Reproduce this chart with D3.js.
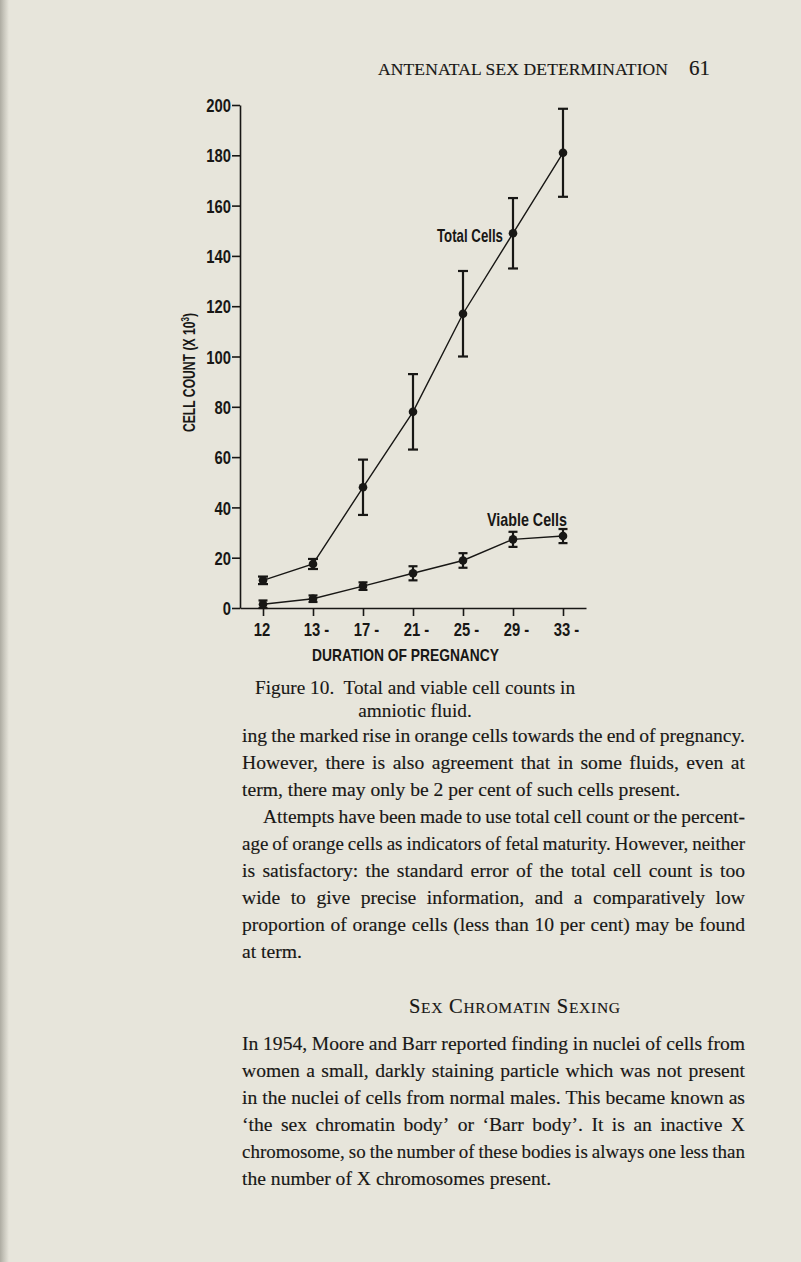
<!DOCTYPE html>
<html><head><meta charset="utf-8">
<script src="https://cdn.jsdelivr.net/npm/d3@7/dist/d3.min.js"></script>
<style>
html,body{margin:0;padding:0;background:#e7e5db;}
svg{display:block;}
</style></head><body>
<svg id="page" width="801" height="1262"></svg>
<script>
// ---------- data ----------
const categories = ["12", "13-", "17-", "21-", "25-", "29-", "33-"];
const totalMean  = [11, 17.5, 48, 78, 117, 149, 181];
const totalErr   = [1.5, 2, 11, 15, 17, 14, 17.5];
const viableMean = [1.5, 3.7, 8.7, 13.8, 18.9, 27.3, 28.6];
const viableErr  = [1.5, 1.3, 1.5, 2.8, 2.9, 3, 2.8];
const yTicks = [0, 20, 40, 60, 80, 100, 120, 140, 160, 180, 200];
const seriesNames = ["Total Cells", "Viable Cells"];
const xTitle = "DURATION OF PREGNANCY";
const yTitle = "CELL COUNT (X 10";
const headerText = "ANTENATAL SEX DETERMINATION";
const pageNumber = "61";
const captionLines = ["Figure 10.  Total and viable cell counts in", "amniotic fluid."];
const para1 = ["ing the marked rise in orange cells towards the end of pregnancy.",
  "However, there is also agreement that in some fluids, even at",
  "term, there may only be 2 per cent of such cells present."];
const para2 = ["Attempts have been made to use total cell count or the percent-",
  "age of orange cells as indicators of fetal maturity. However, neither",
  "is satisfactory: the standard error of the total cell count is too",
  "wide to give precise information, and a comparatively low",
  "proportion of orange cells (less than 10 per cent) may be found",
  "at term."];
const headingText = "Sex Chromatin Sexing";
const para3 = ["In 1954, Moore and Barr reported finding in nuclei of cells from",
  "women a small, darkly staining particle which was not present",
  "in the nuclei of cells from normal males. This became known as",
  "\u2018the sex chromatin body\u2019 or \u2018Barr body\u2019. It is an inactive X",
  "chromosome, so the number of these bodies is always one less than",
  "the number of X chromosomes present."];

// ---------- page ----------
const BG = "#e7e5db", INK = "#181715";
const svg = d3.select("#page");
const defs = svg.append("defs");
const g1 = defs.append("linearGradient").attr("id", "edge").attr("x1", 0).attr("x2", 1);
g1.append("stop").attr("offset", "0%").attr("stop-color", "#aeaca2");
g1.append("stop").attr("offset", "45%").attr("stop-color", "#c9c7bd");
g1.append("stop").attr("offset", "100%").attr("stop-color", BG);
svg.append("rect").attr("width", 801).attr("height", 1262).attr("fill", BG);
svg.append("rect").attr("width", 9).attr("height", 1262).attr("fill", "url(#edge)");

const serif = "'Liberation Serif','Times New Roman',serif";
const sans = "'Liberation Sans',Arial,sans-serif";

// condense a text horizontally (the original lettering is tall and narrow)
function condense(sel, factor, width) {
  const w = width != null ? width : sel.node().getComputedTextLength() * factor;
  sel.attr("textLength", w).attr("lengthAdjust", "spacingAndGlyphs");
  return w;
}

// header
svg.append("text").attr("x", 378).attr("y", 75).attr("font-family", serif).attr("font-size", 17.5)
  .attr("fill", INK).attr("stroke", INK).attr("stroke-width", 0.15)
  .attr("textLength", 290).attr("lengthAdjust", "spacing").text(headerText);
svg.append("text").attr("x", 710).attr("y", 75).attr("text-anchor", "end").attr("font-family", serif)
  .attr("font-size", 21).attr("fill", INK).attr("stroke", INK).attr("stroke-width", 0.15).text(pageNumber);

// ---------- chart ----------
const y = d3.scaleLinear().domain([0, 200]).range([608, 105]);
const x = d3.scalePoint().domain(categories).range([240, 586]).padding(0.46);
const chart = svg.append("g").attr("fill", INK);
const LBL = 18.5, CF = 0.8;

const yAxis = chart.append("g").attr("transform", "translate(240,0)")
  .call(d3.axisLeft(y).tickValues(yTicks).tickSize(8).tickSizeOuter(0).tickPadding(1));
yAxis.selectAll("path,line").attr("stroke", INK).attr("stroke-width", 1.6);
yAxis.selectAll("text").attr("font-family", sans).attr("font-weight", "bold")
  .attr("font-size", LBL).attr("fill", INK).attr("dy", "0.36em")
  .each(function () { condense(d3.select(this), CF); });

const xAxis = chart.append("g").attr("transform", "translate(0,608)")
  .call(d3.axisBottom(x).tickSize(8).tickSizeOuter(0).tickFormat(""));
xAxis.selectAll("path,line").attr("stroke", INK).attr("stroke-width", 1.6);
// x tick labels: digits centred under the tick, trailing dash to the right
categories.forEach(c => {
  const digits = c.replace("-", "");
  const t = chart.append("text").attr("font-family", sans).attr("font-weight", "bold")
    .attr("font-size", LBL).attr("fill", INK).attr("y", 636).text(digits);
  const w = t.node().getComputedTextLength() * CF;
  t.attr("x", x(c) - w / 2 - 1);
  if (c.endsWith("-")) t.text(digits + " -");
  condense(t, CF);
});

const xt = chart.append("text").attr("x", 312).attr("y", 661)
  .attr("font-family", sans).attr("font-weight", "bold").attr("font-size", 17)
  .attr("fill", INK).text(xTitle);
condense(xt, null, 187);

const yt = chart.append("text").attr("transform", "translate(195,432) rotate(-90)")
  .attr("font-family", sans).attr("font-weight", "bold")
  .attr("font-size", 16.5).attr("fill", INK);
yt.append("tspan").text(yTitle);
yt.append("tspan").attr("dy", -6).attr("font-size", 11).text("3");
yt.append("tspan").attr("dy", 6).text(")");
condense(yt, null, 119);

// series
const series = [
  {name: seriesNames[0], mean: totalMean, err: totalErr, cap: 5},
  {name: seriesNames[1], mean: viableMean, err: viableErr, cap: 4.5}
];
const line = d3.line().x(d => x(d.c)).y(d => y(d.v));
series.forEach(s => {
  const pts = categories.map((c, i) => ({c, v: s.mean[i], e: s.err[i]}));
  chart.append("path").datum(pts).attr("d", line).attr("fill", "none")
    .attr("stroke", INK).attr("stroke-width", 1.4);
  const g = chart.append("g").selectAll("g").data(pts).join("g");
  g.append("line").attr("x1", d => x(d.c)).attr("x2", d => x(d.c))
    .attr("y1", d => y(d.v - d.e)).attr("y2", d => y(d.v + d.e))
    .attr("stroke", INK).attr("stroke-width", 2.2);
  [-1, 1].forEach(sg => g.append("line")
    .attr("x1", d => x(d.c) - s.cap).attr("x2", d => x(d.c) + s.cap)
    .attr("y1", d => y(d.v + sg * d.e)).attr("y2", d => y(d.v + sg * d.e))
    .attr("stroke", INK).attr("stroke-width", 2.2));
  g.append("circle").attr("cx", d => x(d.c)).attr("cy", d => y(d.v)).attr("r", 4.3).attr("fill", INK);
});

// series labels
const tl = chart.append("text").attr("x", x(categories[5]) - 76).attr("y", y(totalMean[5]) + 9)
  .attr("font-family", sans).attr("font-weight", "bold")
  .attr("font-size", LBL).attr("fill", INK).text(seriesNames[0]);
condense(tl, null, 66);
const vl = chart.append("text").attr("x", x(categories[6]) - 76).attr("y", y(viableMean[6] + viableErr[6]) - 3)
  .attr("font-family", sans).attr("font-weight", "bold")
  .attr("font-size", LBL).attr("fill", INK).text(seriesNames[1]);
condense(vl, null, 80);

// ---------- caption ----------
captionLines.forEach((t, i) => {
  svg.append("text").attr("x", 415).attr("y", 694 + i * 23).attr("text-anchor", "middle")
    .attr("font-family", serif).attr("font-size", 19.3).attr("fill", INK)
    .attr("stroke", INK).attr("stroke-width", 0.12)
    .style("white-space", "pre").text(t);
});

// ---------- body text ----------
const LEFT = 242, WIDTH = 503, LEAD = 27, FS = 19.6;
function drawLine(str, x0, base, width, justify) {
  const words = str.split(" ");
  const nodes = words.map(w => svg.append("text").attr("y", base).attr("font-family", serif)
    .attr("font-size", FS).attr("fill", INK).attr("stroke", INK).attr("stroke-width", 0.15).text(w));
  let widths = nodes.map(n => n.node().getComputedTextLength());
  const total = d3.sum(widths);
  const minGap = 4;
  if (justify && total + minGap * (words.length - 1) > width) {
    const f = (width - minGap * (words.length - 1)) / total;
    widths = widths.map((w, i) => { const nw = w * f; condense(nodes[i], null, nw); return nw; });
  }
  const tw = d3.sum(widths);
  const gap = justify && words.length > 1 ? (width - tw) / (words.length - 1) : FS * 0.25;
  let cx = x0;
  nodes.forEach((n, i) => { n.attr("x", cx); cx += widths[i] + gap; });
}
function drawPara(lines, startBase, indent) {
  lines.forEach((l, i) => {
    const ind = i === 0 ? indent : 0;
    drawLine(l, LEFT + ind, startBase + i * LEAD, WIDTH - ind, i < lines.length - 1);
  });
}
drawPara(para1, 742, 0);
drawPara(para2, 742 + 3 * LEAD, 21);

// heading in small capitals
const hd = svg.append("text").attr("x", 409).attr("y", 1013).attr("font-family", serif)
  .attr("fill", INK).attr("stroke", INK).attr("stroke-width", 0.15);
headingText.split(" ").forEach((w, i) => {
  hd.append("tspan").attr("font-size", 20.5).text((i ? " " : "") + w[0]);
  hd.append("tspan").attr("font-size", 15.5).text(w.slice(1).toUpperCase());
});
hd.attr("textLength", 211).attr("lengthAdjust", "spacing");

drawPara(para3, 1050, 0);
</script>
</body></html>
